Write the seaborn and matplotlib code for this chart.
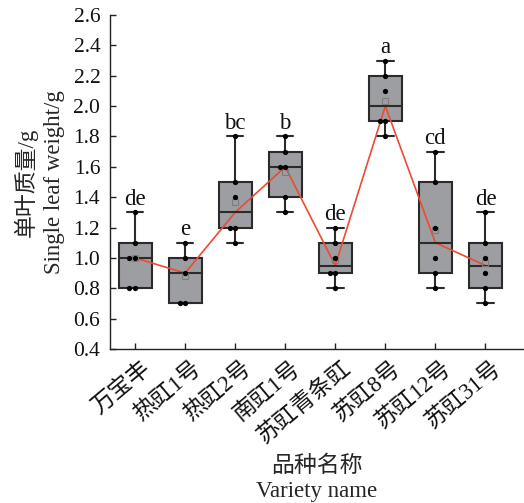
import numpy as np
import pandas as pd
import matplotlib
matplotlib.use("Agg")
import matplotlib.pyplot as plt
import matplotlib.cbook as cbook
import matplotlib.transforms as mtransforms
from matplotlib.ticker import FormatStrFormatter
import seaborn as sns

# ---------------- data ----------------
varieties = ['万宝丰', '热豇1号', '热豇2号', '南豇1号', '苏豇青条豇', '苏豇8号', '苏豇12号', '苏豇31号']
wanbaofeng = [0.8, 0.8, 1.0, 1.0, 1.1, 1.3]
rejiang1 = [0.7, 0.7, 0.9, 1.0, 1.1]
rejiang2 = [1.1, 1.2, 1.2, 1.4, 1.5, 1.8]
nanjiang1 = [1.3, 1.4, 1.6, 1.6, 1.7, 1.8]
sujiang_qtj = [0.8, 0.9, 0.9, 1.0, 1.1, 1.2]
sujiang8 = [1.8, 1.9, 1.9, 2.1, 2.2, 2.3]
sujiang12 = [0.8, 0.9, 1.0, 1.2, 1.5, 1.7]
sujiang31 = [0.7, 0.8, 0.9, 1.0, 1.1, 1.3]
letters = ['de', 'e', 'bc', 'b', 'de', 'a', 'cd', 'de']
y_ticks = [0.4, 0.6, 0.8, 1.0, 1.2, 1.4, 1.6, 1.8, 2.0, 2.2, 2.4, 2.6]

groups = [wanbaofeng, rejiang1, rejiang2, nanjiang1, sujiang_qtj, sujiang8, sujiang12, sujiang31]
df = pd.DataFrame({
    'variety': np.repeat(varieties, [len(g) for g in groups]),
    'weight': np.concatenate(groups),
})

# Box edges in the source use Tukey hinges (Origin style) instead of linear percentiles
_mpl_boxplot_stats = cbook.boxplot_stats


def _hinges(values):
    v = np.sort(np.asarray(values, dtype=float))
    n = len(v)
    return float(np.median(v[:(n + 1) // 2])), float(np.median(v[n // 2:]))


def _hinge_boxplot_stats(X, *args, **kwargs):
    stats = _mpl_boxplot_stats(X, *args, **kwargs)
    if len(stats) == 1 and np.ndim(X[0] if len(X) else 0) == 0:
        datasets = [X]
    else:
        datasets = list(X)
    for st, vals in zip(stats, datasets):
        if len(vals):
            q1, q3 = _hinges(vals)
            st.update(q1=q1, q3=q3, iqr=q3 - q1)
    return stats


cbook.boxplot_stats = _hinge_boxplot_stats

# ---------------- style ----------------
sns.set_theme(style='ticks')
plt.rcParams['font.family'] = ['Liberation Serif', 'Noto Sans CJK SC']
plt.rcParams['axes.unicode_minus'] = False

box_fill = '#9d9ea2'
edge = '#2b2b2b'
line_red = '#ef4a33'

fig = plt.figure(figsize=(5.24, 5.03), dpi=100)
ax = fig.add_axes([110 / 524, 1 - 349 / 503, 414 / 524, 334 / 503])

sns.boxplot(data=df, x='variety', y='weight', order=varieties, width=0.66,
            whis=(0, 100), color=box_fill, saturation=1, linecolor=edge,
            linewidth=1.5, showmeans=True,
            meanprops=dict(marker='s', markerfacecolor='none', markeredgecolor='#7d7d7d',
                           markersize=5, markeredgewidth=0.8),
            ax=ax)
sns.pointplot(data=df, x='variety', y='weight', order=varieties, estimator='median',
              errorbar=None, color=line_red, markersize=0, linewidth=1.2, ax=ax)
sns.swarmplot(data=df, x='variety', y='weight', order=varieties, color='black',
              size=3.8, zorder=5, ax=ax)

for i, (g, lab) in enumerate(zip(groups, letters)):
    ax.text(i, max(g) + 0.015, lab, ha='center', va='bottom', fontsize=16.5, color='#111111')

ax.set_ylim(0.4, 2.6)
ax.set_yticks(y_ticks)
ax.yaxis.set_major_formatter(FormatStrFormatter('%.1f'))
ax.set_xlim(-0.5, 7.77)
for s in ['top', 'right']:
    ax.spines[s].set_visible(False)
for s in ['left', 'bottom']:
    ax.spines[s].set_color('#222222')
    ax.spines[s].set_linewidth(1.0)
ax.tick_params(direction='in', length=4, width=1, colors='#222222', labelcolor='#111111',
               labelsize=15.5)
ax.tick_params(axis='y', pad=7)
ax.tick_params(axis='x', pad=6)

ax.set_xticks(range(len(varieties)))
ax.set_xticklabels(varieties, rotation=40, ha='right', rotation_mode='anchor', fontsize=16.5)
offset = mtransforms.ScaledTranslation(6 / 100, 0, fig.dpi_scale_trans)
for lbl in ax.get_xticklabels():
    lbl.set_transform(lbl.get_transform() + offset)

ax.set_xlabel('品种名称\nVariety name', fontsize=16.5, linespacing=1.3)
ax.set_ylabel('单叶质量/g\nSingle leaf weight/g', fontsize=16.5, linespacing=1.38)
ax.xaxis.set_label_coords(0.5, -0.318)
ax.xaxis.label.set_va('top')
ax.yaxis.set_label_coords(-0.108, 0.5)

fig.savefig('out.png', dpi=100)
